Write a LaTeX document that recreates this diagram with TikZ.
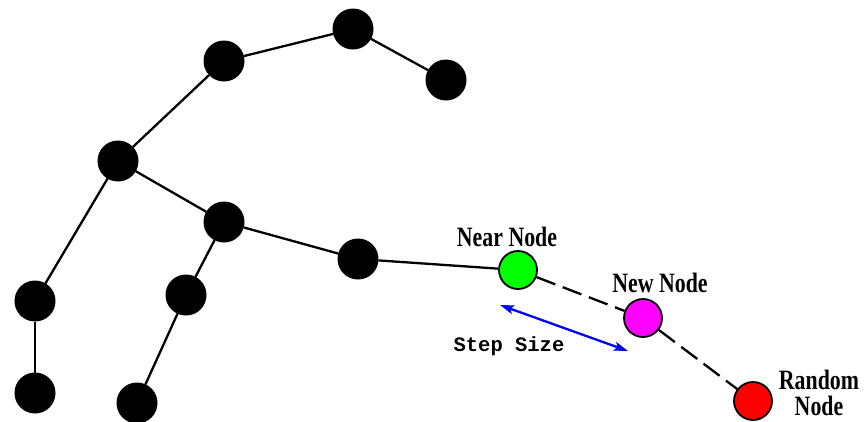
\documentclass[tikz,border=0pt]{standalone}
\usepackage{fontspec}
\setmainfont{Liberation Serif}
\newfontfamily\monofont{Liberation Mono}
\usetikzlibrary{arrows.meta}
\definecolor{nearcol}{RGB}{0,255,0}
\definecolor{newcol}{RGB}{255,0,255}
\definecolor{randcol}{RGB}{255,0,0}
\definecolor{stepcol}{RGB}{0,0,255}
\begin{document}
\begin{tikzpicture}[x=1pt,y=-1pt,
  treenode/.style={circle,draw=black,fill=black,minimum size=40pt,inner sep=0pt,line width=1pt},
  keynode/.style={circle,draw=black,minimum size=38pt,inner sep=0pt,line width=1.8pt},
  edge/.style={line width=2.3pt},
  trial/.style={line width=2.3pt,dash pattern=on 20pt off 8pt},
  lbl/.style={font=\bfseries\fontsize{28}{26}\selectfont,xscale=0.78,align=center,inner sep=0pt}]
\useasboundingbox (0,0) rectangle (866,421);
% tree nodes
\node[treenode] (a) at (224,61) {};
\node[treenode] (b) at (353,29) {};
\node[treenode] (c) at (446,80) {};
\node[treenode] (d) at (118,161) {};
\node[treenode] (e) at (224,222) {};
\node[treenode] (f) at (358,259) {};
\node[treenode] (g) at (35,301) {};
\node[treenode] (h) at (35,393) {};
\node[treenode] (i) at (186,295) {};
\node[treenode] (j) at (137,403) {};
% nodes of the current expansion
\node[keynode,fill=nearcol] (near) at (518,270) {};
\node[keynode,fill=newcol] (new) at (643,318) {};
\node[keynode,fill=randcol] (rand) at (753,401) {};
% tree edges
\draw[edge] (d) -- (a);
\draw[edge] (a) -- (b);
\draw[edge] (b) -- (c);
\draw[edge] (d) -- (e);
\draw[edge] (d) -- (g);
\draw[edge] (g) -- (h);
\draw[edge] (e) -- (f);
\draw[edge] (e) -- (i);
\draw[edge] (i) -- (j);
\draw[edge] (f) -- (near);
% tentative extension
\draw[trial] (near) -- (new);
\draw[trial] (new) -- (rand);
% step size marker
\coordinate (s1) at (500,305);
\coordinate (s2) at (628,351);
\draw[stepcol,line width=2.3pt,{Stealth[length=14pt,width=9pt,inset=3pt]}-{Stealth[length=14pt,width=9pt,inset=3pt]}] (s1) -- (s2);
% labels
\node[lbl] (lnear) at (507,237) {Near Node};
\node[lbl] (lnew) at (660,283) {New Node};
\node[lbl,anchor=base] (lrand) at (819,415) {Random\\Node};
\node[font=\monofont\bfseries\fontsize{20.5}{22}\selectfont,inner sep=0pt] (lstep) at (509,346) {Step Size};
\end{tikzpicture}
\end{document}
